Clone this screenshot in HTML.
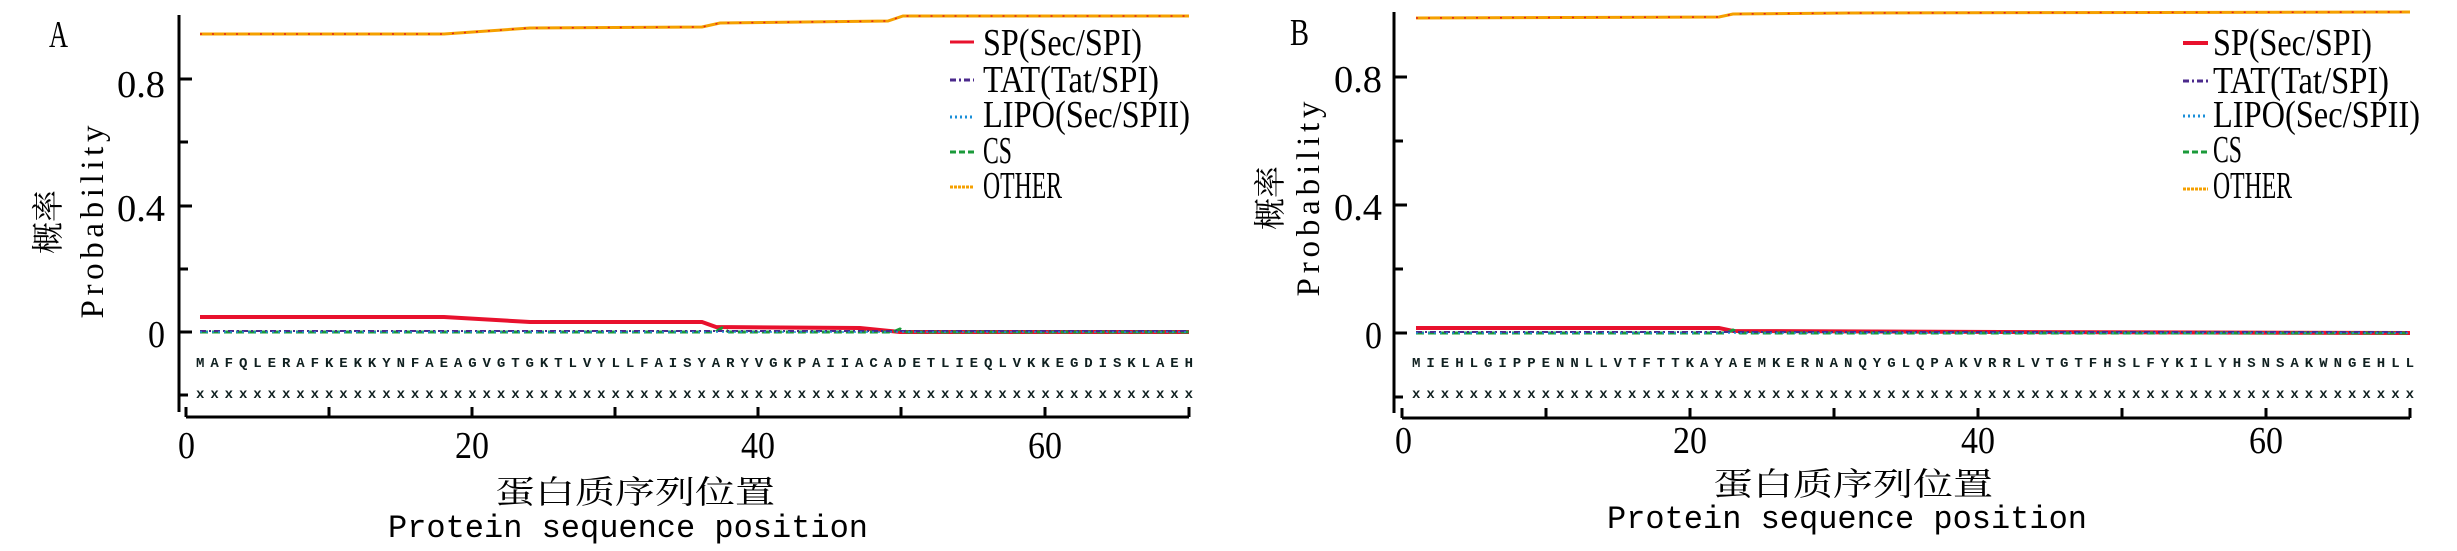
<!DOCTYPE html>
<html><head><meta charset="utf-8"><style>
html,body{margin:0;padding:0;background:#fff;}
svg{display:block;}
.tk{font-family:"Liberation Serif",serif;font-size:33px;fill:#000;}
.nm{font-family:"Liberation Serif",serif;font-size:38px;fill:#000;}
.lg{font-family:"Liberation Serif",serif;font-size:38px;fill:#000;}
.seq{font-family:"Liberation Mono",monospace;font-size:14px;font-weight:bold;fill:#102020;}
.cn{font-family:"Liberation Serif","Noto Serif CJK SC",serif;font-size:32px;fill:#000;}
.en{font-family:"Liberation Mono",monospace;font-size:32px;fill:#000;}
</style></head><body>
<svg width="2457" height="551" viewBox="0 0 2457 551" xmlns="http://www.w3.org/2000/svg">
<!-- Panel A -->
<g>
<text x="49" y="47" class="nm" font-size="34" textLength="19" lengthAdjust="spacingAndGlyphs">A</text>
<line x1="179" y1="15" x2="179" y2="412" stroke="#000" stroke-width="3"/>
<g stroke="#000" stroke-width="3">
<line x1="179" y1="79" x2="192" y2="79"/><line x1="179" y1="142" x2="188" y2="142"/>
<line x1="179" y1="206" x2="192" y2="206"/><line x1="179" y1="269" x2="188" y2="269"/>
<line x1="179" y1="332" x2="192" y2="332"/><line x1="179" y1="395" x2="188" y2="395"/>
<line x1="186" y1="417" x2="1189" y2="417"/>
<line x1="186" y1="407" x2="186" y2="417"/><line x1="329" y1="407" x2="329" y2="417"/>
<line x1="472" y1="407" x2="472" y2="417"/><line x1="615" y1="407" x2="615" y2="417"/>
<line x1="758" y1="407" x2="758" y2="417"/><line x1="901" y1="407" x2="901" y2="417"/>
<line x1="1045" y1="407" x2="1045" y2="417"/><line x1="1189" y1="407" x2="1189" y2="417"/>
</g>
<text x="117" y="97" class="nm" textLength="48" lengthAdjust="spacingAndGlyphs">0.8</text>
<text x="117" y="221" class="nm" textLength="48" lengthAdjust="spacingAndGlyphs">0.4</text>
<text x="148" y="347" class="nm" textLength="17" lengthAdjust="spacingAndGlyphs">0</text>
<text x="178" y="458" class="nm" textLength="17" lengthAdjust="spacingAndGlyphs">0</text>
<text x="455" y="458" class="nm" textLength="34" lengthAdjust="spacingAndGlyphs">20</text>
<text x="741" y="458" class="nm" textLength="34" lengthAdjust="spacingAndGlyphs">40</text>
<text x="1028" y="458" class="nm" textLength="34" lengthAdjust="spacingAndGlyphs">60</text>
<text transform="translate(59,222) rotate(-90)" class="cn" text-anchor="middle">概率</text>
<text transform="translate(103,222) rotate(-90)" class="tk" text-anchor="middle" textLength="193" lengthAdjust="spacing">Probability</text>
<text x="495" y="503" class="cn" textLength="280" lengthAdjust="spacingAndGlyphs">蛋白质序列位置</text>
<text x="388" y="537" class="en" textLength="480" lengthAdjust="spacingAndGlyphs">Protein sequence position</text>
<text x="196" y="367" class="seq" textLength="997" lengthAdjust="spacing">MAFQLERAFKEKKYNFAEAGVGTGKTLVYLLFAISYARYVGKPAIIACADETLIEQLVKKEGDISKLAEH</text>
<text x="196" y="398" class="seq" textLength="997" lengthAdjust="spacing">xxxxxxxxxxxxxxxxxxxxxxxxxxxxxxxxxxxxxxxxxxxxxxxxxxxxxxxxxxxxxxxxxxxxxx</text>
<polyline points="200,34 444,34 530,28 702,27 720,23 888,21 903,16 1189,16" fill="none" stroke="#f5a000" stroke-width="3"/>
<polyline points="200,34 444,34 530,28 702,27 720,23 888,21 903,16 1189,16" fill="none" stroke="#e02020" stroke-width="1.5" stroke-dasharray="2 10"/>
<polyline points="200,317 444,317 530,322 702,322 716,327 860,328 900,332 1189,332" fill="none" stroke="#e8112d" stroke-width="4"/>
<polyline points="200,332 715,332 722,328 729,332 893,332 900,329 907,332 1189,332" fill="none" stroke="#1a9a3a" stroke-width="3" stroke-dasharray="8 4"/>
<line x1="200" y1="331" x2="1189" y2="331" stroke="#4b2a8c" stroke-width="2" stroke-dasharray="6 3 2 3"/>
<line x1="200" y1="332" x2="1189" y2="332" stroke="#1a8fd8" stroke-width="1.5" stroke-dasharray="2 4"/>
<line x1="950" y1="42" x2="974" y2="42" stroke="#e8112d" stroke-width="3"/>
<line x1="950" y1="80" x2="974" y2="80" stroke="#4b2a8c" stroke-width="3" stroke-dasharray="6 3 2 3"/>
<line x1="950" y1="117" x2="974" y2="117" stroke="#1a8fd8" stroke-width="3" stroke-dasharray="2 3"/>
<line x1="950" y1="152" x2="974" y2="152" stroke="#1a9a3a" stroke-width="3" stroke-dasharray="6 3"/>
<line x1="950" y1="187" x2="974" y2="187" stroke="#f5a000" stroke-width="3" stroke-dasharray="3 1"/>
<text x="983" y="55" class="lg" textLength="159" lengthAdjust="spacingAndGlyphs">SP(Sec/SPI)</text>
<text x="983" y="92" class="lg" textLength="176" lengthAdjust="spacingAndGlyphs">TAT(Tat/SPI)</text>
<text x="983" y="127" class="lg" textLength="207" lengthAdjust="spacingAndGlyphs">LIPO(Sec/SPII)</text>
<text x="983" y="163" class="lg" textLength="29" lengthAdjust="spacingAndGlyphs">CS</text>
<text x="983" y="198" class="lg" textLength="79" lengthAdjust="spacingAndGlyphs">OTHER</text>
</g>
<!-- Panel B -->
<g>
<text x="1290" y="45" class="nm" font-size="34" textLength="19" lengthAdjust="spacingAndGlyphs">B</text>
<line x1="1394" y1="12" x2="1394" y2="413" stroke="#000" stroke-width="3"/>
<g stroke="#000" stroke-width="3">
<line x1="1394" y1="77" x2="1407" y2="77"/><line x1="1394" y1="141" x2="1403" y2="141"/>
<line x1="1394" y1="205" x2="1407" y2="205"/><line x1="1394" y1="269" x2="1403" y2="269"/>
<line x1="1394" y1="333" x2="1407" y2="333"/><line x1="1394" y1="397" x2="1403" y2="397"/>
<line x1="1402" y1="418" x2="2410" y2="418"/>
<line x1="1402" y1="408" x2="1402" y2="418"/><line x1="1546" y1="408" x2="1546" y2="418"/>
<line x1="1690" y1="408" x2="1690" y2="418"/><line x1="1834" y1="408" x2="1834" y2="418"/>
<line x1="1978" y1="408" x2="1978" y2="418"/><line x1="2122" y1="408" x2="2122" y2="418"/>
<line x1="2266" y1="408" x2="2266" y2="418"/><line x1="2410" y1="408" x2="2410" y2="418"/>
</g>
<text x="1334" y="92" class="nm" textLength="48" lengthAdjust="spacingAndGlyphs">0.8</text>
<text x="1334" y="220" class="nm" textLength="48" lengthAdjust="spacingAndGlyphs">0.4</text>
<text x="1365" y="348" class="nm" textLength="17" lengthAdjust="spacingAndGlyphs">0</text>
<text x="1395" y="453" class="nm" textLength="17" lengthAdjust="spacingAndGlyphs">0</text>
<text x="1673" y="453" class="nm" textLength="34" lengthAdjust="spacingAndGlyphs">20</text>
<text x="1961" y="453" class="nm" textLength="34" lengthAdjust="spacingAndGlyphs">40</text>
<text x="2249" y="453" class="nm" textLength="34" lengthAdjust="spacingAndGlyphs">60</text>
<text transform="translate(1281,198) rotate(-90)" class="cn" text-anchor="middle">概率</text>
<text transform="translate(1319,199) rotate(-90)" class="tk" text-anchor="middle" textLength="195" lengthAdjust="spacing">Probability</text>
<text x="1713" y="495" class="cn" textLength="280" lengthAdjust="spacingAndGlyphs">蛋白质序列位置</text>
<text x="1607" y="528" class="en" textLength="480" lengthAdjust="spacingAndGlyphs">Protein sequence position</text>
<text x="1412" y="367" class="seq" textLength="1002" lengthAdjust="spacing">MIEHLGIPPENNLLVTFTTKAYAEMKERNANQYGLQPAKVRRLVTGTFHSLFYKILYHSNSAKWNGEHLL</text>
<text x="1412" y="398" class="seq" textLength="1002" lengthAdjust="spacing">xxxxxxxxxxxxxxxxxxxxxxxxxxxxxxxxxxxxxxxxxxxxxxxxxxxxxxxxxxxxxxxxxxxxxx</text>
<polyline points="1416,18 1719,17 1733,14 1850,13 2410,12" fill="none" stroke="#f5a000" stroke-width="3"/>
<polyline points="1416,18 1719,17 1733,14 1850,13 2410,12" fill="none" stroke="#e02020" stroke-width="1.5" stroke-dasharray="2 10"/>
<polyline points="1416,328 1719,328 1733,331 2000,332 2410,333" fill="none" stroke="#e8112d" stroke-width="4"/>
<polyline points="1416,333 1726,333 1733,330 1740,333 2410,333" fill="none" stroke="#1a9a3a" stroke-width="3" stroke-dasharray="8 4"/>
<line x1="1416" y1="332" x2="2410" y2="332" stroke="#4b2a8c" stroke-width="2" stroke-dasharray="6 3 2 3"/>
<line x1="1416" y1="333" x2="2410" y2="333" stroke="#1a8fd8" stroke-width="1.5" stroke-dasharray="2 4"/>
<line x1="2183" y1="43" x2="2208" y2="43" stroke="#e8112d" stroke-width="4"/>
<line x1="2183" y1="81" x2="2208" y2="81" stroke="#4b2a8c" stroke-width="3" stroke-dasharray="6 3 2 3"/>
<line x1="2183" y1="116" x2="2208" y2="116" stroke="#1a8fd8" stroke-width="3" stroke-dasharray="2 3"/>
<line x1="2183" y1="152" x2="2208" y2="152" stroke="#1a9a3a" stroke-width="3" stroke-dasharray="6 3"/>
<line x1="2183" y1="189" x2="2208" y2="189" stroke="#f5a000" stroke-width="3" stroke-dasharray="3 1"/>
<text x="2213" y="55" class="lg" textLength="159" lengthAdjust="spacingAndGlyphs">SP(Sec/SPI)</text>
<text x="2213" y="93" class="lg" textLength="176" lengthAdjust="spacingAndGlyphs">TAT(Tat/SPI)</text>
<text x="2213" y="127" class="lg" textLength="207" lengthAdjust="spacingAndGlyphs">LIPO(Sec/SPII)</text>
<text x="2213" y="162" class="lg" textLength="29" lengthAdjust="spacingAndGlyphs">CS</text>
<text x="2213" y="198" class="lg" textLength="79" lengthAdjust="spacingAndGlyphs">OTHER</text>
</g>
</svg>
</body></html>
